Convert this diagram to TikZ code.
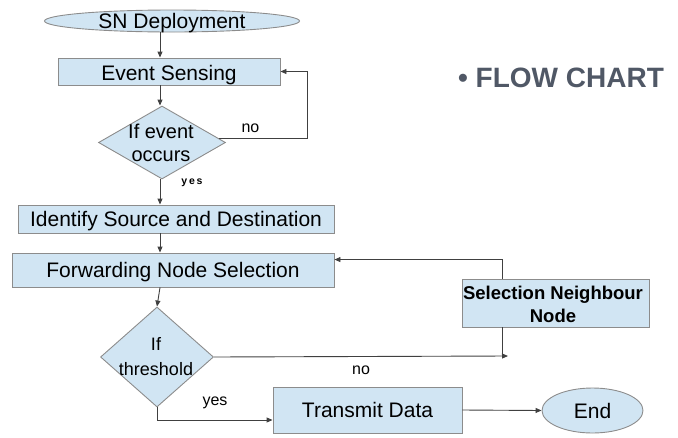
\documentclass[tikz,border=0pt]{standalone}
\usepackage{fontspec}
\setmainfont{Liberation Sans}
\usetikzlibrary{shapes.geometric,arrows.meta,calc}

\definecolor{boxfill}{HTML}{D1E5F3}
\definecolor{boxline}{HTML}{8C8C8C}
\definecolor{wire}{HTML}{404040}
\definecolor{titlegray}{HTML}{505866}

\tikzset{
  shapebase/.style={draw=boxline, fill=boxfill, line width=0.9pt, inner sep=0pt},
  procbox/.style={shapebase, rectangle},
  termshape/.style={shapebase, ellipse},
  decshape/.style={shapebase, diamond, aspect=1},
  bigtext/.style={font=\fontsize{21}{24}\selectfont, align=center, inner sep=0pt,
    text height=15pt, text depth=0pt},
  lbl/.style={font=\fontsize{16}{18}\selectfont, inner sep=0pt},
  wirestyle/.style={draw=wire, line width=0.9pt},
  arr/.style={wirestyle, -{Triangle[length=6pt,width=5pt]}},
}

\begin{document}
\begin{tikzpicture}[x=1pt, y=-1pt]
  \useasboundingbox (0,0) rectangle (678,437);

  % column used by the vertical connectors
  \coordinate (col) at (160,0);

  % start
  \node[termshape, minimum width=255pt, minimum height=22pt] (sn) at (172,21) {};
  \node[bigtext] (snt) at (172,21) {SN Deployment};

  % event sensing
  \node[procbox, minimum width=222pt, minimum height=27pt] (es) at (169,71.5) {};
  \node[bigtext] (est) at (169,72.5) {Event Sensing};

  % first decision
  \node[decshape, minimum width=127pt, minimum height=73pt] (d1) at (162,142.5) {};
  \node[font=\fontsize{20}{23}\selectfont, align=center, inner sep=0pt] (d1t) at (161,143) {If event\\occurs};

  % source / destination
  \node[procbox, minimum width=316pt, minimum height=28pt] (id) at (176,219) {};
  \node[bigtext] (idt) at (id) {Identify Source and Destination};

  % forwarding node selection
  \node[procbox, minimum width=322pt, minimum height=34pt] (fw) at (173,270) {};
  \node[bigtext] (fwt) at (fw) {Forwarding Node Selection};

  % threshold decision
  \node[decshape, minimum width=113pt, minimum height=100pt] (d2) at (157,357) {};
  \node[font=\fontsize{18}{25}\selectfont, align=center, inner sep=0pt] (d2t) at (156,357) {If\\threshold};

  % neighbour selection
  \node[procbox, minimum width=187pt, minimum height=48pt] (snn) at (555.5,303) {};
  \node[font=\fontsize{18.5}{23}\selectfont\bfseries, align=center, inner sep=0pt] (snnt) at (553,304) {Selection Neighbour\\Node};

  % transmit and end
  \node[procbox, minimum width=189pt, minimum height=46pt] (tx) at (367.5,410) {};
  \node[bigtext] (txt) at (tx) {Transmit Data};
  \node[termshape, minimum width=101pt, minimum height=45pt] (end) at (592.5,410.5) {};
  \node[bigtext] (endt) at (end) {End};

  % heading
  \node[font=\fontsize{28}{30}\selectfont\bfseries, text=titlegray, inner sep=0pt] (title) at (561,78) {• FLOW CHART};

  % main column
  \draw[arr] (sn.south -| col) -- (es.north -| col);
  \draw[arr] (es.south -| col) -- (d1.north -| col);
  \draw[arr] (d1.south -| col) -- (id.north -| col);
  \draw[arr] (id.south -| col) -- (fw.north -| col);
  \draw[arr] (fw.south -| col) -- (d2.north);

  % event not occurred: back to sensing
  \coordinate (loopx) at (307,0);
  \coordinate (d1out) at ($(d1.east)+(-7,-4)$);
  \draw[arr] (d1out) -- (d1out -| loopx) |- (es.east);
  \node[lbl] (no1) at (250.5,128.5) {no};
  \node[font=\fontsize{10.5}{12}\selectfont\bfseries, inner sep=0pt] (yes1) at (192,183) {y\,e\,s};

  % threshold not met: via neighbour selection
  \coordinate (sx) at (502,0);
  \coordinate (nj) at (508,356);
  \draw[arr] (d2.east) -- (nj);
  \draw[wirestyle] (snn.south -| sx) -- (sx |- nj);
  \coordinate (fwin) at ($(fw.north east)+(0,7)$);
  \draw[arr] (snn.north -| sx) |- (fwin);
  \node[lbl] (no2) at (361,370) {no};

  % threshold met: transmit
  \coordinate (txin) at ($(tx.west)+(0,10)$);
  \draw[arr] (d2.south) |- (txin);
  \node[lbl] (yes2) at (215,403) {yes};
  \draw[arr] (tx.east) -- (end.west);
\end{tikzpicture}
\end{document}
